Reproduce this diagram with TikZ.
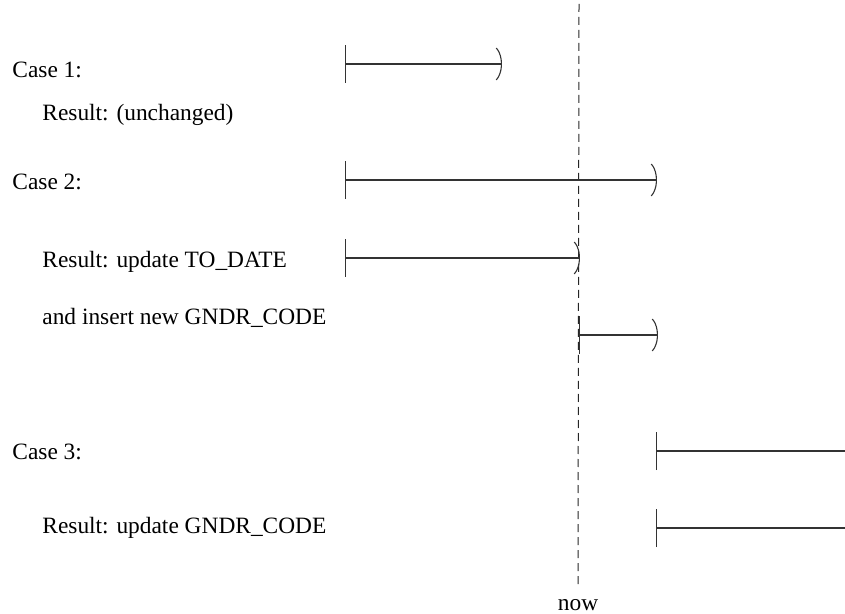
\documentclass[tikz,border=0pt]{standalone}
\usepackage{fontspec}
\setmainfont{Liberation Serif}
\usepackage{tikz}
\usetikzlibrary{calc,positioning,arrows.meta}

\begin{document}
\begin{tikzpicture}[
    x=0.5pt, y=-0.5pt,
    every node/.style={font=\fontsize{11.7}{14}\selectfont, inner sep=0pt},
    caselabel/.style={anchor=west},
    period/.style={
      draw=black!80, line width=0.55pt,
      {Bar[width=19pt,line width=0.55pt]}-{Parenthesis[width=19pt,length=5.5pt,line width=0.55pt]}
    },
    nowline/.style={draw=black!85, line width=0.5pt, dash pattern=on 4pt off 2.5pt}
  ]
    \useasboundingbox (0,0) rectangle (845,614);
    % labels on the left
    \node[caselabel] (case1) at (12,70) {Case 1:};
    \node[caselabel] (res1) at (42,115) {Result: (unchanged)};
    \node[caselabel] (case2) at (12,182) {Case 2:};
    \node[caselabel] (res2) at (42,262) {Result: update TO\_DATE};
    \node[caselabel] (ins2) at (42,318) {and insert new GNDR\_CODE};
    \node[caselabel] (case3) at (12,452) {Case 3:};
    \node[caselabel] (res3) at (42,528) {Result: update GNDR\_CODE};
    % the moment "now"
    \coordinate (nowtop) at (579,4);
    \node (now) at (578,605) {now};
    \draw[nowline] (nowtop) -- ($(now.north)+(0,-14)$);
    % validity periods
    \coordinate (c1s) at (345,64);
    \coordinate (c1e) at (502,64);
    \coordinate (c2s) at (345,180);
    \coordinate (c2e) at (657,180);
    \coordinate (r2s) at (345,258);
    \coordinate (r2e) at (580,258);
    \coordinate (i2s) at (579,335);
    \coordinate (i2e) at (658,335);
    \coordinate (c3s) at (656,451);
    \coordinate (c3e) at (854,451);
    \coordinate (r3s) at (656,528);
    \coordinate (r3e) at (854,528);
    \draw[period] (c1s) -- (c1e);
    \draw[period] (c2s) -- (c2e);
    \draw[period] (r2s) -- (r2e);
    \draw[period] (i2s) -- (i2e);
    \draw[period] (c3s) -- (c3e);
    \draw[period] (r3s) -- (r3e);
  \end{tikzpicture}
\end{document}
